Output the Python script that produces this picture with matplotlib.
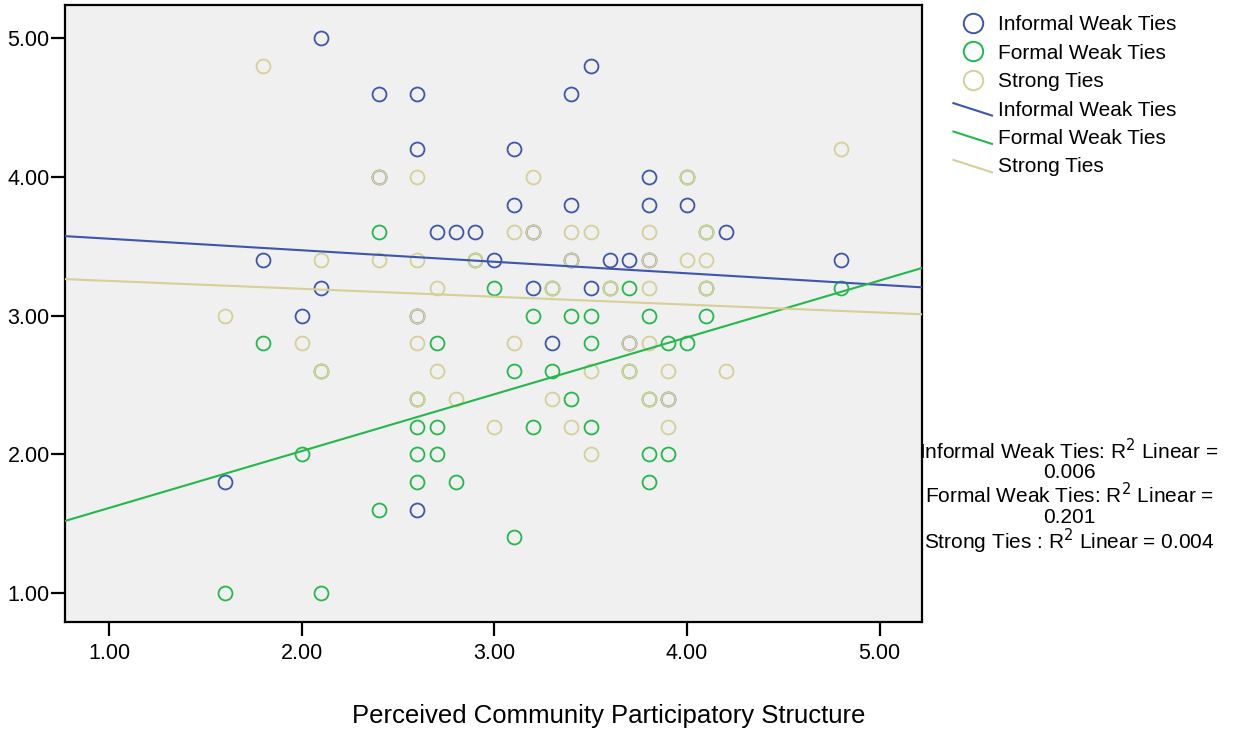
import matplotlib
matplotlib.use("Agg")
import matplotlib.pyplot as plt
from matplotlib.legend_handler import HandlerLine2D
from matplotlib.lines import Line2D
import numpy as np

plt.rcParams['font.family'] = ['Liberation Sans', 'DejaVu Sans']

# scatter data (x = participatory structure, y = ties score)
informal_x = [1.6, 1.8, 2.0, 2.1, 2.1, 2.4, 2.4, 2.6, 2.6, 2.6, 2.6, 2.7, 2.8, 2.9, 3.0,
              3.1, 3.1, 3.2, 3.2, 3.3, 3.4, 3.4, 3.4, 3.5, 3.5, 3.6, 3.7, 3.7, 3.8, 3.8,
              3.8, 3.9, 4.0, 4.2, 4.8]
informal_y = [1.8, 3.4, 3.0, 5.0, 3.2, 4.6, 4.0, 4.6, 4.2, 3.0, 1.6, 3.6, 3.6, 3.6, 3.4,
              4.2, 3.8, 3.2, 3.6, 2.8, 4.6, 3.8, 3.4, 4.8, 3.2, 3.4, 3.4, 2.8, 4.0, 3.8,
              3.4, 2.4, 3.8, 3.6, 3.4]

formal_x = [1.6, 1.8, 2.0, 2.1, 2.1, 2.4, 2.4, 2.6, 2.6, 2.6, 2.6, 2.7, 2.7, 2.7, 2.8,
            2.9, 3.0, 3.1, 3.1, 3.2, 3.2, 3.3, 3.3, 3.4, 3.4, 3.5, 3.5, 3.5, 3.6, 3.7,
            3.7, 3.8, 3.8, 3.8, 3.8, 3.9, 3.9, 4.0, 4.0, 4.1, 4.1, 4.1, 4.8]
formal_y = [1.0, 2.8, 2.0, 1.0, 2.6, 3.6, 1.6, 2.4, 2.2, 2.0, 1.8, 2.8, 2.2, 2.0, 1.8,
            3.4, 3.2, 2.6, 1.4, 3.0, 2.2, 2.6, 3.2, 3.0, 2.4, 3.0, 2.8, 2.2, 3.2, 3.2,
            2.6, 3.0, 2.4, 2.0, 1.8, 2.8, 2.0, 2.8, 4.0, 3.6, 3.2, 3.0, 3.2]

strong_x = [1.6, 1.8, 2.0, 2.1, 2.1, 2.4, 2.4, 2.6, 2.6, 2.6, 2.6, 2.6, 2.7, 2.7, 2.8,
            2.9, 3.0, 3.1, 3.1, 3.2, 3.2, 3.3, 3.3, 3.4, 3.4, 3.4, 3.5, 3.5, 3.5, 3.6,
            3.7, 3.7, 3.8, 3.8, 3.8, 3.8, 3.8, 3.9, 3.9, 3.9, 4.0, 4.0, 4.1, 4.1, 4.1,
            4.2, 4.8]
strong_y = [3.0, 4.8, 2.8, 3.4, 2.6, 4.0, 3.4, 4.0, 3.4, 3.0, 2.8, 2.4, 3.2, 2.6, 2.4,
            3.4, 2.2, 3.6, 2.8, 4.0, 3.6, 3.2, 2.4, 3.6, 3.4, 2.2, 3.6, 2.6, 2.0, 3.2,
            2.8, 2.6, 3.6, 3.4, 3.2, 2.8, 2.4, 2.6, 2.4, 2.2, 4.0, 3.4, 3.6, 3.4, 3.2,
            2.6, 4.2]

# fitted lines (intercept, slope) as shown in the chart
fit_informal = (3.637, -0.083)
fit_formal = (1.203, 0.410)
fit_strong = (3.307, -0.057)

r2_text = ["Informal Weak Ties: R$^2$ Linear =", "0.006",
           "Formal Weak Ties: R$^2$ Linear =", "0.201",
           "Strong Ties : R$^2$ Linear = 0.004"]

c_blue = '#3c55ad'
c_green = '#22b84a'
c_strong = '#d6cf98'

fig = plt.figure(figsize=(12.34, 7.36), dpi=100)
ax = fig.add_axes([65/1234, 1-622/736, (922-65)/1234, (622-5)/736])
ax.set_facecolor('#f0f0f0')

xlim = (0.77, 5.22)
ax.set_xlim(xlim)
ax.set_ylim(0.79, 5.24)

ms = 10
mew = 1.3
ax.plot(informal_x, informal_y, 'o', ms=ms, mfc='none', mec=c_blue, mew=mew, zorder=3)
ax.plot(formal_x, formal_y, 'o', ms=ms, mfc='none', mec=c_green, mew=mew, zorder=4)
ax.plot(strong_x, strong_y, 'o', ms=ms, mfc='none', mec=c_strong, mew=mew, zorder=5)

xs = np.array(xlim)
for (b0, b1), c in [(fit_informal, c_blue), (fit_formal, c_green), (fit_strong, c_strong)]:
    ax.plot(xs, b0 + b1 * xs, color=c, lw=1.5, zorder=6)

ax.set_xticks([1, 2, 3, 4, 5])
ax.set_xticklabels(['1.00', '2.00', '3.00', '4.00', '5.00'])
ax.set_yticks([1, 2, 3, 4, 5])
ax.set_yticklabels(['1.00', '2.00', '3.00', '4.00', '5.00'])
ax.tick_params(axis='both', direction='out', length=10, width=1.6, labelsize=15.5)
ax.tick_params(axis='y', pad=1)
ax.tick_params(axis='x', pad=5)
for s in ax.spines.values():
    s.set_linewidth(1.6)

fig.text(609/1234, 1-716/736, 'Perceived Community Participatory Structure',
         ha='center', va='center', fontsize=18.5)


class DiagLine(HandlerLine2D):
    def create_artists(self, legend, orig_handle, xdescent, ydescent, width, height, fontsize, trans):
        ln = Line2D([-xdescent, -xdescent + width], [height * 0.85, height * 0.0],
                    color=orig_handle.get_color(), lw=orig_handle.get_linewidth())
        ln.set_transform(trans)
        return [ln]


handles = [
    Line2D([], [], ls='none', marker='o', ms=14, mfc='none', mec=c_blue, mew=1.4),
    Line2D([], [], ls='none', marker='o', ms=14, mfc='none', mec=c_green, mew=1.4),
    Line2D([], [], ls='none', marker='o', ms=14, mfc='none', mec=c_strong, mew=1.4),
    Line2D([], [], color=c_blue, lw=1.5),
    Line2D([], [], color=c_green, lw=1.5),
    Line2D([], [], color=c_strong, lw=1.5),
]
labels = ['Informal Weak Ties', 'Formal Weak Ties', 'Strong Ties'] * 2
hmap = {h: DiagLine() for h in handles[3:]}
fig.legend(handles, labels, handler_map=hmap, loc='upper left',
           bbox_to_anchor=(943/1234, 1-5/736), frameon=False, fontsize=15,
           handlelength=1.85, handletextpad=0.3, labelspacing=0.45, borderpad=0)

fig.text(1069/1234, 1-497/736, '\n'.join(r2_text), ha='center', va='center',
         fontsize=15, linespacing=1.0)

fig.savefig('out.png', dpi=100)
